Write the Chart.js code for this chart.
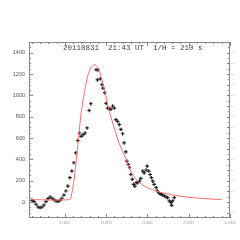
<!DOCTYPE html>
<html>
<head>
<meta charset="utf-8">
<script src="https://cdn.jsdelivr.net/npm/chart.js@4"></script>
<style>
  html, body { margin: 0; padding: 0; background: #fff; }
  #wrap { width: 240px; height: 240px; }
</style>
</head>
<body>
<div id="wrap"><canvas id="c" width="240" height="240"></canvas></div>
<script>
// 観測データ（黒点）
const obsX = [2.05, 2.53, 3.01, 3.49, 3.98, 4.46, 4.94, 5.42, 5.90, 6.39, 6.87, 7.35, 7.83, 8.31, 8.80,
  9.28, 9.76, 10.24, 10.72, 11.20, 11.69, 12.17, 12.65, 13.13, 13.54, 13.93, 14.41, 14.89, 15.37, 15.86,
  16.27, 17.54, 17.88, 18.02, 18.60, 18.99, 19.23, 19.64, 20.00, 20.36, 20.77, 21.16, 21.57, 21.98, 22.36,
  22.77, 23.18, 23.57, 23.98, 24.34, 24.77, 25.01, 25.35, 25.66, 25.98, 26.31, 26.63, 26.94, 27.28, 27.66,
  28.07, 28.39, 28.87, 29.20, 29.69, 29.93, 30.31, 30.65, 30.96, 31.28, 31.61, 32.10, 32.41, 32.72, 33.06,
  33.37, 33.69, 34.10, 34.51, 34.89, 35.30, 35.71, 35.86, 36.10, 36.51];
const obsY = [16, 4, -21, -47, -53, -47, -28, 4, 31, 47, 35, 22, 10, 4, 16,
  35, 65, 103, 149, 228, 290, 368, 461, 576, 647, 616, 632, 647, 694, 858,
  921, 1240, 1145, 1238, 1155, 1100, 1067, 1025, 925, 881, 871, 871, 900, 881, 772,
  756, 725, 680, 640, 554, 470, 383, 352, 321, 258, 212, 165, 149, 181, 181,
  196, 221, 290, 273, 300, 336, 290, 258, 228, 196, 165, 134, 103, 87, 78,
  72, 65, 56, 47, 41, 10, -6, -31, 10, 41];

// モデル曲線（赤線）
const fitX = [2.05, 11.13, 11.52, 11.93, 12.34, 12.72, 13.13, 13.54, 13.93, 14.34, 14.75, 15.13, 15.54,
  15.95, 16.34, 16.75, 17.16, 17.54, 17.95, 18.36, 18.75, 19.16, 19.57, 19.95, 20.36, 20.77, 21.16,
  21.98, 22.77, 23.57, 24.39, 25.01, 25.66, 26.87, 28.07, 29.69, 31.28, 32.89, 35.30, 37.71, 40.92,
  44.14, 47.95];
const fitY = [22, 22, 56, 134, 243, 383, 538, 694, 834, 942, 1036, 1114, 1185,
  1229, 1260, 1278, 1288, 1280, 1260, 1222, 1176, 1114, 1052, 989, 912, 849, 795,
  690, 590, 510, 440, 383, 310, 230, 181, 140, 115, 93, 72, 56, 41,
  31, 22];

// 目盛り
const xTickValues = [10, 20, 30, 40, 50];
const xTickLabels = ['21.6667', '21.8333', '22.0000', '22.1667', '22.3333'];
const yTickValues = [0, 200, 400, 600, 800, 1000, 1200, 1400];
const y2TickValues = [-100, 0, 100, 200, 300, 400, 500, 600, 700, 800, 900, 1000, 1100, 1200, 1300, 1400];
const titleText = '20110831  21:43 UT  1/H = 210 s';

const X_MIN = 1.3, X_MAX = 50, Y_MIN = -150, Y_MAX = 1500;

// 枠と内向きの目盛りを描く
const framePlugin = {
  id: 'frame',
  afterDraw(chart) {
    const ctx = chart.ctx;
    const a = chart.chartArea;
    const xs = chart.scales.x, ys = chart.scales.y;
    ctx.save();
    ctx.strokeStyle = '#888';
    ctx.lineWidth = 1;
    ctx.strokeRect(a.left + 0.5, a.top + 0.5, a.right - a.left - 1, a.bottom - a.top - 1);
    ctx.beginPath();
    for (let v = 2; v <= X_MAX; v += 2) {
      const px = Math.round(xs.getPixelForValue(v)) + 0.5;
      const len = v % 10 === 0 ? 4 : 2;
      ctx.moveTo(px, a.bottom); ctx.lineTo(px, a.bottom - len);
      ctx.moveTo(px, a.top); ctx.lineTo(px, a.top + len);
    }
    for (let v = -100; v <= Y_MAX; v += 50) {
      const py = Math.round(ys.getPixelForValue(v)) + 0.5;
      const lenL = v % 200 === 0 ? 4 : 2;
      const lenR = v % 100 === 0 ? 3 : 2;
      ctx.moveTo(a.left, py); ctx.lineTo(a.left + lenL, py);
      ctx.moveTo(a.right, py); ctx.lineTo(a.right - lenR, py);
    }
    ctx.stroke();
    ctx.fillStyle = '#444';
    ctx.font = '7.5px "Liberation Mono"';
    ctx.textBaseline = 'middle';
    ctx.fillText(titleText, 63, 48);
    ctx.restore();
  }
};

new Chart(document.getElementById('c').getContext('2d'), {
  type: 'scatter',
  data: {
    datasets: [
      {
        type: 'line',
        data: fitX.map((x, i) => ({ x, y: fitY[i] })),
        borderColor: '#ff6b6b',
        borderWidth: 1,
        pointRadius: 0,
        tension: 0.3,
        fill: false
      },
      {
        data: obsX.map((x, i) => ({ x, y: obsY[i] })),
        pointStyle: 'cross',
        pointRadius: 1.8,
        borderColor: '#222',
        borderWidth: 1.2,
        backgroundColor: '#222'
      }
    ]
  },
  options: {
    responsive: false,
    animation: false,
    devicePixelRatio: 1,
    layout: { padding: { top: 42, left: 0, right: 0, bottom: 0 } },
    plugins: { legend: { display: false }, tooltip: { enabled: false } },
    scales: {
      x: {
        type: 'linear', min: X_MIN, max: X_MAX,
        grid: { display: false, drawTicks: false }, border: { display: false },
        afterBuildTicks: s => { s.ticks = xTickValues.map(v => ({ value: v })); },
        afterFit: s => { s.height = 22; },
        ticks: {
          padding: 3, color: '#999', maxRotation: 0, autoSkip: false,
          font: { size: 3, family: 'Liberation Sans' },
          callback: v => xTickLabels[xTickValues.indexOf(v)]
        }
      },
      y: {
        min: Y_MIN, max: Y_MAX,
        grid: { display: false, drawTicks: false }, border: { display: false },
        afterBuildTicks: s => { s.ticks = yTickValues.map(v => ({ value: v })); },
        afterFit: s => { s.width = 29; },
        ticks: {
          padding: 4, color: '#555', font: { size: 5.5, family: 'Liberation Sans' },
          callback: v => String(v)
        }
      },
      y2: {
        position: 'right', min: Y_MIN, max: Y_MAX,
        grid: { display: false, drawTicks: false }, border: { display: false },
        afterBuildTicks: s => { s.ticks = y2TickValues.map(v => ({ value: v })); },
        afterFit: s => { s.width = 10; },
        ticks: {
          padding: 1, color: '#bbb', font: { size: 2, family: 'Liberation Sans' },
          callback: v => String(v)
        }
      }
    }
  },
  plugins: [framePlugin]
});
</script>
</body>
</html>
